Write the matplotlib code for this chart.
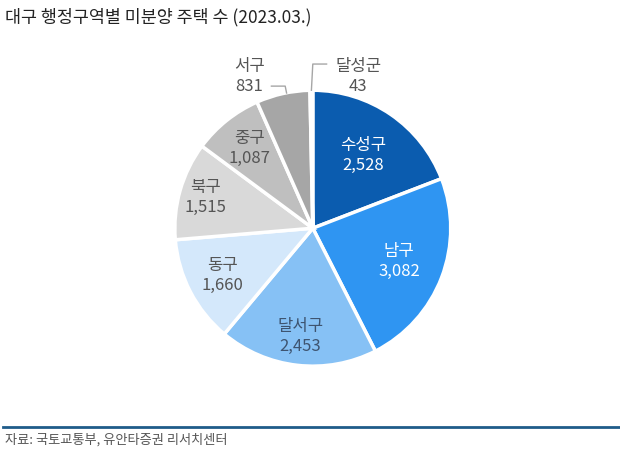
import numpy as np
import matplotlib
matplotlib.use("Agg")
import matplotlib.pyplot as plt

plt.rcParams['font.family'] = ['Noto Sans CJK KR', 'DejaVu Sans']

# data
districts = ['수성구', '남구', '달서구', '동구', '북구', '중구', '서구', '달성군']
counts = [2528, 3082, 2453, 1660, 1515, 1087, 831, 43]
colors = ['#0B5CAF', '#2F95F2', '#86C1F5', '#D4E8FB', '#D9D9D9', '#BFBFBF', '#A6A6A6', '#8C8C8C']
text_colors = ['white', 'white', '#3E5470', '#555555', '#555555', '#555555', '#555555', '#555555']
label_r = [0.64, 0.67, 0.79, 0.74, 0.81, 0.74, None, None]

fig = plt.figure(figsize=(6.2, 4.51), dpi=100)
ax = fig.add_axes([0.282, 0.188, 0.445, 0.612])

wedges, _ = ax.pie(counts, colors=colors, startangle=90, counterclock=False,
                   wedgeprops=dict(edgecolor='white', linewidth=2.5))
ax.set_xlim(-1, 1)
ax.set_ylim(-1, 1)
ax.set_aspect('equal')

# labels inside the slices
for w, name, val, tc, r in zip(wedges, districts, counts, text_colors, label_r):
    if r is None:
        continue
    ang = np.deg2rad((w.theta1 + w.theta2) / 2)
    ax.text(r * np.cos(ang), r * np.sin(ang), f"{name}\n{val:,}", ha='center', va='center',
            fontsize=12, color=tc, linespacing=1.25)

# outside labels with leader lines
ax.text(-0.46, 1.10, f"{districts[6]}\n{counts[6]:,}", ha='center', va='center',
        fontsize=12, color='#555555', linespacing=1.25)
ax.plot([-0.30, -0.20, -0.19], [1.03, 1.03, 0.98], color='#A6A6A6', lw=1, clip_on=False)

ax.text(0.33, 1.10, f"{districts[7]}\n{counts[7]:,}", ha='center', va='center',
        fontsize=12, color='#555555', linespacing=1.25)
ax.plot([0.10, 0.0, -0.01], [1.19, 1.19, 1.0], color='#A6A6A6', lw=1, clip_on=False)

fig.text(0.008, 0.962, '대구 행정구역별 미분양 주택 수 (2023.03.)', fontsize=12.5,
         color='#222222', va='center', ha='left', fontweight='medium')

fig.add_artist(plt.Line2D([0.005, 1.0], [0.053, 0.053], transform=fig.transFigure,
                          color='#1F5C8A', lw=2))
fig.text(0.008, 0.024, '자료: 국토교통부, 유안타증권 리서치센터', fontsize=9.5,
         color='#555555', va='center', ha='left')

fig.savefig('out.png', dpi=100)
